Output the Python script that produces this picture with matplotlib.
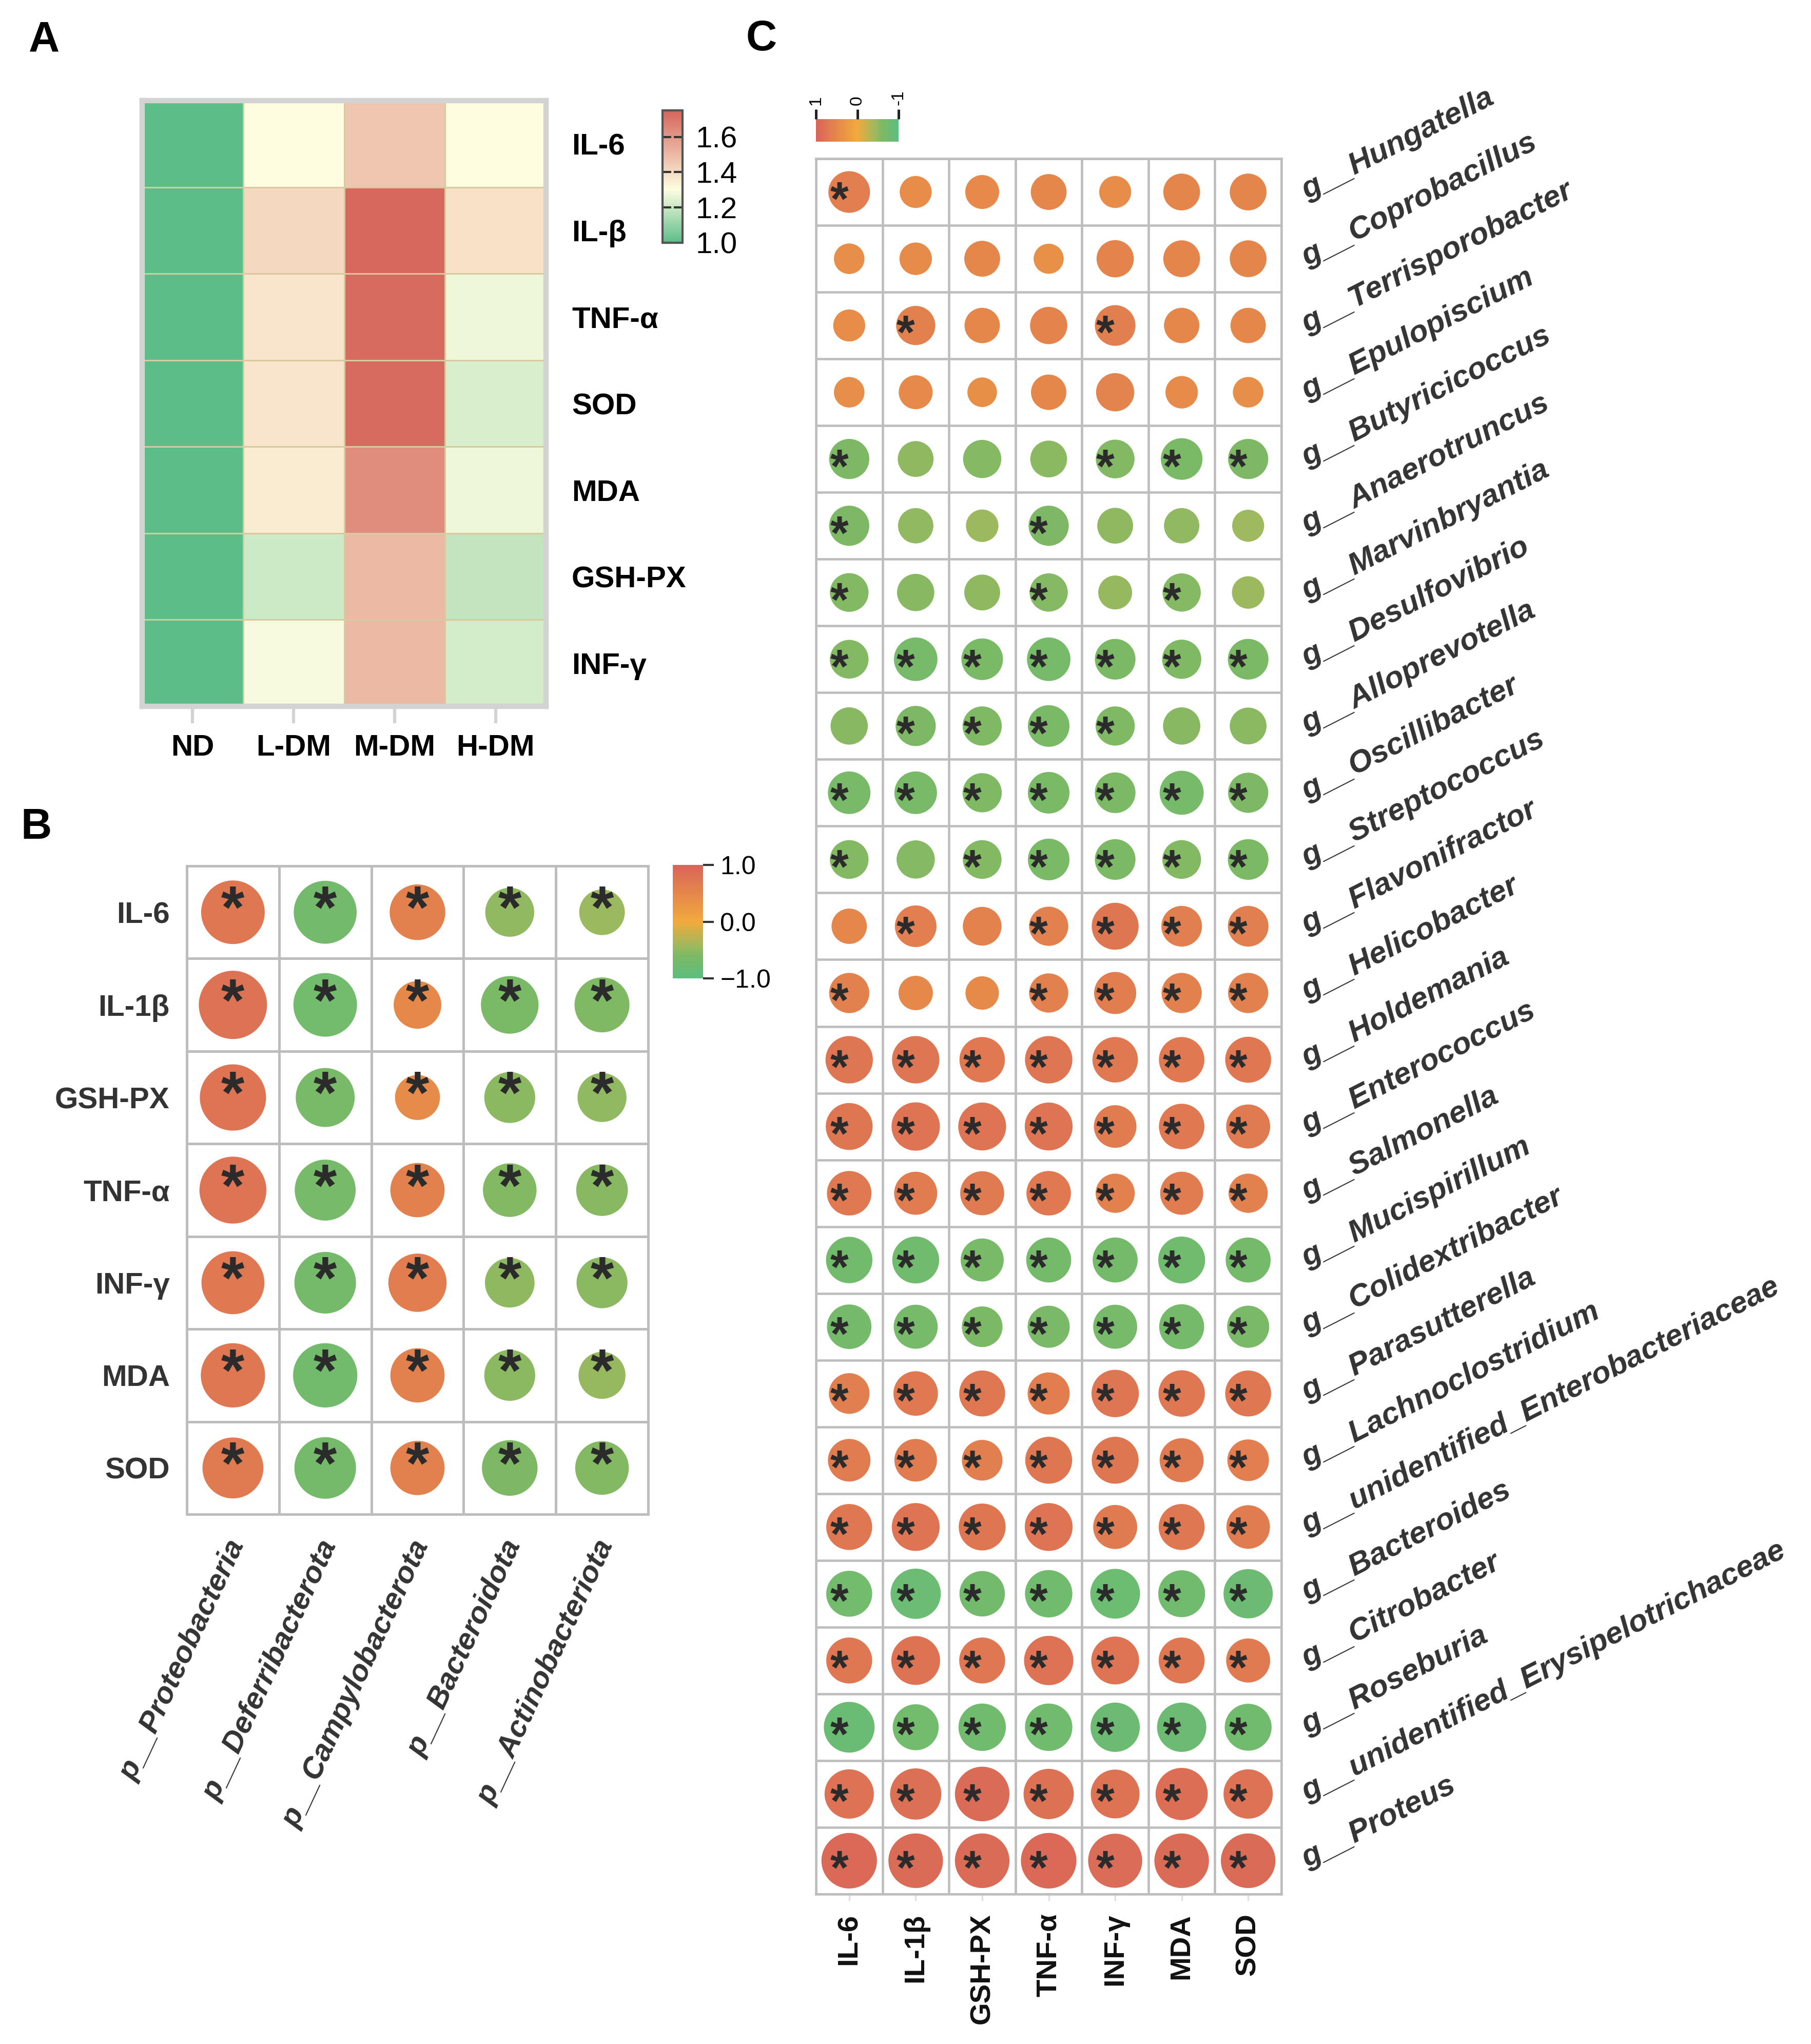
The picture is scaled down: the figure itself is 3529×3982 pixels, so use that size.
import numpy as np
import matplotlib.pyplot as plt
from matplotlib.colors import LinearSegmentedColormap, Normalize
from matplotlib.cm import ScalarMappable

plt.rcParams['font.family'] = ['Liberation Sans', 'DejaVu Sans']

# ---------------- data ----------------
# panel A: relative levels per group
groups = ['ND', 'L-DM', 'M-DM', 'H-DM']
markers_a = ['IL-6', 'IL-β', 'TNF-α', 'SOD', 'MDA', 'GSH-PX', 'INF-γ']
nd = [1.00, 1.00, 1.00, 1.00, 1.00, 1.00, 1.00]
l_dm = [1.30, 1.41, 1.37, 1.37, 1.35, 1.21, 1.29]
m_dm = [1.46, 1.74, 1.73, 1.73, 1.63, 1.50, 1.50]
h_dm = [1.30, 1.38, 1.27, 1.23, 1.27, 1.19, 1.22]

# panel B: phylum correlations (rows = markers_b)
markers_b = ['IL-6', 'IL-1β', 'GSH-PX', 'TNF-α', 'INF-γ', 'MDA', 'SOD']
phyla = ['p__Proteobacteria', 'p__Deferribacterota', 'p__Campylobacterota',
         'p__Bacteroidota', 'p__Actinobacteriota']
proteobacteria = [0.72, 0.79, 0.76, 0.77, 0.71, 0.73, 0.68]
deferribacterota = [-0.71, -0.72, -0.65, -0.68, -0.69, -0.73, -0.69]
campylobacterota = [0.60, 0.48, 0.44, 0.58, 0.64, 0.58, 0.58]
bacteroidota = [-0.50, -0.63, -0.53, -0.57, -0.51, -0.53, -0.60]
actinobacteriota = [-0.45, -0.59, -0.50, -0.54, -0.53, -0.47, -0.57]

# panel C: genus correlations (columns = markers_c)
markers_c = ['IL-6', 'IL-1β', 'GSH-PX', 'TNF-α', 'INF-γ', 'MDA', 'SOD']
genera = ['g__Hungatella', 'g__Coprobacillus', 'g__Terrisporobacter', 'g__Epulopiscium',
          'g__Butyricicoccus', 'g__Anaerotruncus', 'g__Marvinbryantia', 'g__Desulfovibrio',
          'g__Alloprevotella', 'g__Oscillibacter', 'g__Streptococcus', 'g__Flavonifractor',
          'g__Helicobacter', 'g__Holdemania', 'g__Enterococcus', 'g__Salmonella',
          'g__Mucispirillum', 'g__Colidextribacter', 'g__Parasutterella', 'g__Lachnoclostridium',
          'g__unidentified_Enterobacteriaceae', 'g__Bacteroides', 'g__Citrobacter',
          'g__Roseburia', 'g__unidentified_Erysipelotrichaceae', 'g__Proteus']
c_il6 = [0.63, 0.40, 0.43, 0.40, -0.60, -0.60, -0.57, -0.57, -0.54, -0.65, -0.57, 0.50, 0.60,
         0.75, 0.74, 0.69, -0.73, -0.69, 0.61, 0.65, 0.72, -0.72, 0.72, -0.82, 0.79, 0.92]
c_il1b = [0.43, 0.44, 0.58, 0.47, -0.51, -0.50, -0.54, -0.67, -0.60, -0.65, -0.56, 0.63, 0.48,
          0.75, 0.77, 0.66, -0.74, -0.68, 0.69, 0.65, 0.76, -0.81, 0.78, -0.72, 0.83, 0.90]
c_gshpx = [0.47, 0.51, 0.50, 0.38, -0.56, -0.44, -0.51, -0.63, -0.58, -0.58, -0.57, 0.57, 0.46,
           0.71, 0.76, 0.68, -0.66, -0.61, 0.72, 0.61, 0.74, -0.71, 0.72, -0.75, 0.90, 0.90]
c_tnfa = [0.51, 0.39, 0.54, 0.50, -0.53, -0.60, -0.56, -0.67, -0.63, -0.63, -0.63, 0.58, 0.58,
          0.75, 0.76, 0.69, -0.70, -0.64, 0.64, 0.74, 0.76, -0.75, 0.79, -0.75, 0.81, 0.92]
c_infg = [0.43, 0.54, 0.61, 0.56, -0.57, -0.51, -0.47, -0.61, -0.58, -0.61, -0.61, 0.74, 0.64,
          0.71, 0.65, 0.58, -0.70, -0.68, 0.75, 0.74, 0.68, -0.80, 0.76, -0.79, 0.78, 0.89]
c_mda = [0.53, 0.53, 0.50, 0.44, -0.63, -0.50, -0.56, -0.58, -0.54, -0.68, -0.57, 0.61, 0.60,
         0.71, 0.71, 0.66, -0.74, -0.70, 0.73, 0.68, 0.72, -0.74, 0.72, -0.79, 0.85, 0.90]
c_sod = [0.53, 0.53, 0.50, 0.40, -0.60, -0.43, -0.44, -0.61, -0.53, -0.60, -0.61, 0.61, 0.60,
         0.72, 0.68, 0.58, -0.70, -0.64, 0.72, 0.63, 0.67, -0.79, 0.68, -0.74, 0.79, 0.90]
# significance per genus row (1 = *), order follows markers_c
sig_c = ['1000000', '0000000', '0100100', '0000000', '1000111', '1001000', '1001010',
         '1111111', '0111100', '1111111', '1011111', '0101111', '1001111', '1111111',
         '1111111', '1111111', '1111111', '1111111', '1111111', '1111111', '1111111',
         '1111111', '1111111', '1111111', '1111111', '1111111']

# ---------------- figure ----------------
W, H, DPI = 3529, 3982, 300
fig = plt.figure(figsize=(W / DPI, H / DPI), dpi=DPI)


def px_axes(left, top, width, height):
    return fig.add_axes([left / W, 1 - (top + height) / H, width / W, height / H])


cmap_a = LinearSegmentedColormap.from_list('a', [(0, '#5CBD89'), (0.4, '#FEFDE0'), (1, '#D5655A')])
cmap_r = LinearSegmentedColormap.from_list(
    'r', [(0, '#5CBE80'), (0.2, '#7DB964'), (0.275, '#9BB95F'), (0.5, '#F2AA3C'), (1, '#D8645A')])
norm_r = Normalize(-1, 1)
dark = '#333333'
star_c = '#2B2B2B'

# ---- panel A ----
axA = px_axes(277, 196, 787, 1180)
mat_a = np.column_stack([nd, l_dm, m_dm, h_dm])
mesh = axA.pcolormesh(mat_a, cmap=cmap_a, vmin=1.0, vmax=1.75,
                      edgecolors='#D9C9A0', linewidth=0.7)
axA.set_xlim(0, 4)
axA.set_ylim(7, 0)
axA.set_xticks(np.arange(4) + 0.5)
axA.set_xticklabels(groups, fontsize=14, fontweight='bold')
axA.yaxis.tick_right()
axA.set_yticks(np.arange(7) + 0.5)
axA.set_yticklabels(markers_a, fontsize=14, fontweight='bold')
axA.tick_params(axis='x', length=8, width=1.5, color='#D3D3D3', pad=5)
axA.tick_params(axis='y', length=0, pad=12)
for s in axA.spines.values():
    s.set_color('#D3D3D3')
    s.set_linewidth(2.5)

caxA = px_axes(1291, 215, 39, 258)
cbA = fig.colorbar(mesh, cax=caxA, ticks=[1.0, 1.2, 1.4, 1.6])
cbA.ax.set_yticklabels(['1.0', '1.2', '1.4', '1.6'])
cbA.outline.set_edgecolor('#555555')
cbA.outline.set_linewidth(1)
caxA.tick_params(direction='in', left=True, right=True, length=4, width=1,
                 color='#333333', labelsize=14, pad=6)

# ---- panel B ----
axB = px_axes(364, 1687, 899, 1263)
R_b = np.column_stack([proteobacteria, deferribacterota, campylobacterota,
                       bacteroidota, actinobacteriota])
cell_b = 180 * 72 / DPI
xb, yb = np.meshgrid(np.arange(5) + 0.5, np.arange(7) + 0.5)
axB.scatter(xb.ravel(), yb.ravel(), s=((0.17 + 0.72 * np.abs(R_b.ravel())) * cell_b) ** 2,
            c=R_b.ravel(), cmap=cmap_r, norm=norm_r, linewidths=0, zorder=3)
for x, y in zip(xb.ravel(), yb.ravel()):
    axB.text(x, y, '*', ha='center', va='center', fontsize=28, fontweight='bold',
             color=star_c, zorder=4)
axB.set_xlim(0, 5)
axB.set_ylim(7, 0)
axB.set_xticks(np.arange(6), minor=True)
axB.set_yticks(np.arange(8), minor=True)
axB.grid(which='minor', color='#BDBDBD', linewidth=1.2)
axB.set_xticks([])
axB.set_yticks(np.arange(7) + 0.5)
axB.set_yticklabels(markers_b, fontsize=14, fontweight='bold', color=dark)
axB.tick_params(axis='y', which='both', length=0, pad=8)
axB.tick_params(axis='x', which='both', length=0)
for s in axB.spines.values():
    s.set_color('#BDBDBD')
    s.set_linewidth(1.2)
for j, name in enumerate(phyla):
    axB.text(j + 0.55, 7.3, name, rotation=65, rotation_mode='anchor', ha='right',
             va='center', fontsize=14, fontweight='bold', fontstyle='italic',
             color=dark, clip_on=False)

caxB = px_axes(1311, 1685, 59, 221)
cbB = fig.colorbar(ScalarMappable(norm=norm_r, cmap=cmap_r), cax=caxB, ticks=[-1, 0, 1])
cbB.ax.set_yticklabels(['\u22121.0', '0.0', '1.0'])
cbB.outline.set_visible(False)
caxB.tick_params(length=5, width=1, color='#333333', labelsize=12, pad=3)

# ---- panel C ----
axC = px_axes(1590, 309, 907, 3381)
R_c = np.column_stack([c_il6, c_il1b, c_gshpx, c_tnfa, c_infg, c_mda, c_sod])
cell_c = 130 * 72 / DPI
xc, yc = np.meshgrid(np.arange(7) + 0.5, np.arange(26) + 0.5)
axC.scatter(xc.ravel(), yc.ravel(), s=((0.17 + 0.72 * np.abs(R_c.ravel())) * cell_c) ** 2,
            c=R_c.ravel(), cmap=cmap_r, norm=norm_r, linewidths=0, zorder=3)
for i, row in enumerate(sig_c):
    for j, flag in enumerate(row):
        if flag == '1':
            axC.text(j + 0.5 - 0.15, i + 0.5 + 0.16, '*', ha='center', va='center',
                     fontsize=22, fontweight='bold', color=star_c, zorder=4)
axC.set_xlim(0, 7)
axC.set_ylim(26, 0)
axC.set_xticks(np.arange(8), minor=True)
axC.set_yticks(np.arange(27), minor=True)
axC.grid(which='minor', color='#BDBDBD', linewidth=1.1)
axC.set_xticks(np.arange(7) + 0.5)
axC.set_xticklabels(markers_c, rotation=90, fontsize=13.5, fontweight='bold', color='#111111')
axC.set_yticks([])
axC.tick_params(axis='x', which='major', length=3, color='#E0E0E0', pad=6)
axC.tick_params(axis='both', which='minor', length=0)
for s in axC.spines.values():
    s.set_color('#BDBDBD')
    s.set_linewidth(1.1)
for i, name in enumerate(genera):
    axC.text(7.33, i + 0.5, name, rotation=27, rotation_mode='anchor', ha='left',
             va='center', fontsize=14.5, fontweight='bold', fontstyle='italic',
             color=dark, clip_on=False)

caxC = px_axes(1590, 232, 161, 44)
cbC = fig.colorbar(ScalarMappable(norm=norm_r, cmap=cmap_r), cax=caxC,
                   orientation='horizontal', ticks=[-1, 0, 1])
caxC.invert_xaxis()
cbC.outline.set_visible(False)
caxC.xaxis.set_ticks_position('top')
caxC.set_xticklabels(['-1', '0', '1'])
caxC.tick_params(axis='x', top=True, bottom=False, labeltop=True, labelbottom=False,
                 length=4.5, width=1.2, color='#222222', labelsize=8, labelrotation=90, pad=2)

# panel letters
for letter, (px, py) in {'A': (86, 79), 'B': (71, 1612), 'C': (1484, 76)}.items():
    fig.text(px / W, 1 - py / H, letter, ha='center', va='center', fontsize=20,
             fontweight='bold')

fig.savefig('out.png', dpi=DPI, facecolor='white')
